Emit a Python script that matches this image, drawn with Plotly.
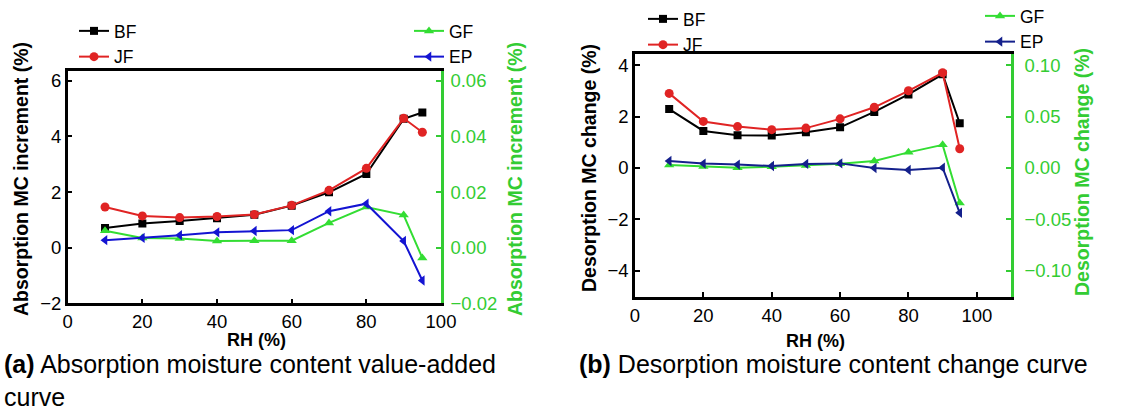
import plotly.graph_objects as go

# ---------------- data ----------------
rh = [10, 20, 30, 40, 50, 60, 70, 80, 90, 95]

# (a) absorption MC increment (%)
abs_bf = [0.71, 0.87, 0.96, 1.06, 1.18, 1.51, 1.99, 2.65, 4.63, 4.86]
abs_jf = [1.46, 1.14, 1.08, 1.12, 1.19, 1.52, 2.06, 2.85, 4.65, 4.15]
abs_gf = [0.0061, 0.0035, 0.0033, 0.0024, 0.0025, 0.0025, 0.0089, 0.0146, 0.0117, -0.0037]
abs_ep = [0.0027, 0.0035, 0.0045, 0.0055, 0.0060, 0.0063, 0.0131, 0.0158, 0.0024, -0.0118]

# (b) desorption MC change (%)
des_bf = [2.29, 1.44, 1.27, 1.26, 1.39, 1.58, 2.18, 2.86, 3.64, 1.74]
des_jf = [2.90, 1.81, 1.61, 1.49, 1.55, 1.91, 2.36, 3.00, 3.70, 0.75]
des_gf = [0.0030, 0.0015, 0.0003, 0.0013, 0.0025, 0.0042, 0.0068, 0.0152, 0.0225, -0.0340]
des_ep = [0.0068, 0.0043, 0.0033, 0.0020, 0.0040, 0.0045, 0.0000, -0.0020, 0.0003, -0.0435]

left_ticks = [-2, 0, 2, 4, 6]
right_ticks_a = [-0.02, 0.00, 0.02, 0.04, 0.06]
left_ticks_b = [-4, -2, 0, 2, 4]
right_ticks_b = [-0.10, -0.05, 0.00, 0.05, 0.10]
x_ticks = [0, 20, 40, 60, 80, 100]

series_names = ["BF", "JF", "GF", "EP"]

# ---------------- style ----------------
W, H = 1124, 413
FONT = "Liberation Sans, Arial, sans-serif"
BLACK = "#000000"
RED = "#e02424"
GREEN = "#33dd33"
BLUE_A = "#1414d2"
BLUE_B = "#14208c"
AXGREEN = "#33cc33"


def px(x):
    return x / W


def py(y):
    return 1 - y / H


fig = go.Figure()


def add(x, y, name, color, symbol, size, xa, ya, legend):
    fig.add_trace(go.Scatter(
        x=x, y=y, name=name, mode="lines+markers",
        line=dict(color=color, width=2),
        marker=dict(symbol=symbol, size=size, color=color),
        xaxis=xa, yaxis=ya, legend=legend, showlegend=True,
    ))


# (a)
add(rh, abs_bf, series_names[0], BLACK, "square", 8, "x", "y", "legend")
add(rh, abs_jf, series_names[1], RED, "circle", 9, "x", "y", "legend")
add(rh, abs_gf, series_names[2], GREEN, "triangle-up", 9, "x", "y2", "legend2")
add(rh, abs_ep, series_names[3], BLUE_A, "triangle-left", 9, "x", "y2", "legend2")
# (b)
add(rh, des_bf, series_names[0], BLACK, "square", 8, "x2", "y3", "legend3")
add(rh, des_jf, series_names[1], RED, "circle", 9, "x2", "y3", "legend3")
add(rh, des_gf, series_names[2], GREEN, "triangle-up", 9, "x2", "y4", "legend4")
add(rh, des_ep, series_names[3], BLUE_B, "triangle-left", 9, "x2", "y4", "legend4")

tickfont = dict(family=FONT, size=18.5, color=BLACK)
gtickfont = dict(family=FONT, size=18.5, color=AXGREEN)

xcommon = dict(showline=True, linecolor=BLACK, linewidth=2.5, mirror=True,
               ticks="inside", ticklen=5, tickwidth=2, tickcolor=BLACK,
               showgrid=False, zeroline=False, tickfont=tickfont, tickvals=x_ticks)
ycommon = dict(showline=True, linecolor=BLACK, linewidth=2.5, ticks="inside",
               ticklen=5, tickwidth=2, tickcolor=BLACK, showgrid=False,
               zeroline=False, tickfont=tickfont)
y2common = dict(showline=True, linecolor=AXGREEN, linewidth=2.5, ticks="inside",
                ticklen=5, tickwidth=2, tickcolor=AXGREEN, showgrid=False,
                zeroline=False, tickfont=gtickfont, side="right", tickformat=".2f")

legfont = dict(family=FONT, size=17.5, color=BLACK)
legcommon = dict(font=legfont, bgcolor="rgba(0,0,0,0)", borderwidth=0,
                 xanchor="left", yanchor="top", tracegroupgap=0)

fig.update_layout(
    width=W, height=H, autosize=False,
    margin=dict(l=0, r=0, t=0, b=0, autoexpand=False),
    paper_bgcolor="white", plot_bgcolor="white",
    font=dict(family=FONT, color=BLACK),
    xaxis=dict(domain=[px(67.7), px(441)], range=[0, 100], anchor="y", **xcommon),
    yaxis=dict(domain=[py(303.3), py(71)], range=[-2, 6.35], tickvals=left_ticks,
               anchor="x", **ycommon),
    yaxis2=dict(overlaying="y", anchor="x", range=[-0.02, 0.0635],
                tickvals=right_ticks_a, ticklabelstandoff=3, **y2common),
    xaxis2=dict(domain=[px(635), px(1011)], range=[0, 110], anchor="y3", **xcommon),
    yaxis3=dict(domain=[py(296.7), py(54)], range=[-5, 4.43], tickvals=left_ticks_b,
                anchor="x2", **ycommon),
    yaxis4=dict(overlaying="y3", anchor="x2", range=[-0.125, 0.11075],
                tickvals=right_ticks_b, ticklabelstandoff=7, **y2common),
    legend=dict(x=px(74), y=py(13), **legcommon),
    legend2=dict(x=px(409), y=py(13), **legcommon),
    legend3=dict(x=px(643), y=py(1), **legcommon),
    legend4=dict(x=px(980), y=py(-2), **legcommon),
)

tfont = dict(family=FONT, size=19.5, color=BLACK)
gfont = dict(family=FONT, size=19.5, color=AXGREEN)
xtfont = dict(family=FONT, size=18, color=BLACK)
capfont = dict(family=FONT, size=25, color=BLACK)

ann = [
    dict(text="<b>Absorption MC increment (%)</b>", x=px(21), y=py(179), textangle=-90, font=tfont),
    dict(text="<b>Absorption MC increment (%)</b>", x=px(515), y=py(179), textangle=-90, font=gfont),
    dict(text="<b>Desorption MC change (%)</b>", x=px(589), y=py(168), textangle=-90, font=tfont),
    dict(text="<b>Desorption MC change (%)</b>", x=px(1082), y=py(172), textangle=-90, font=gfont),
    dict(text="<b>RH (%)</b>", x=px(256), y=py(340), font=xtfont),
    dict(text="<b>RH (%)</b>", x=px(815), y=py(341), font=xtfont),
    dict(text="<b>(a)</b> Absorption moisture content value-added<br>curve", x=px(2), y=py(380),
         xanchor="left", align="left", font=capfont),
    dict(text="<b>(b)</b> Desorption moisture content change curve", x=px(577), y=py(364),
         xanchor="left", font=capfont),
]
for a in ann:
    a.setdefault("xanchor", "center")
    fig.add_annotation(xref="paper", yref="paper", showarrow=False, yanchor="middle", **a)

fig.write_html("out.html")
